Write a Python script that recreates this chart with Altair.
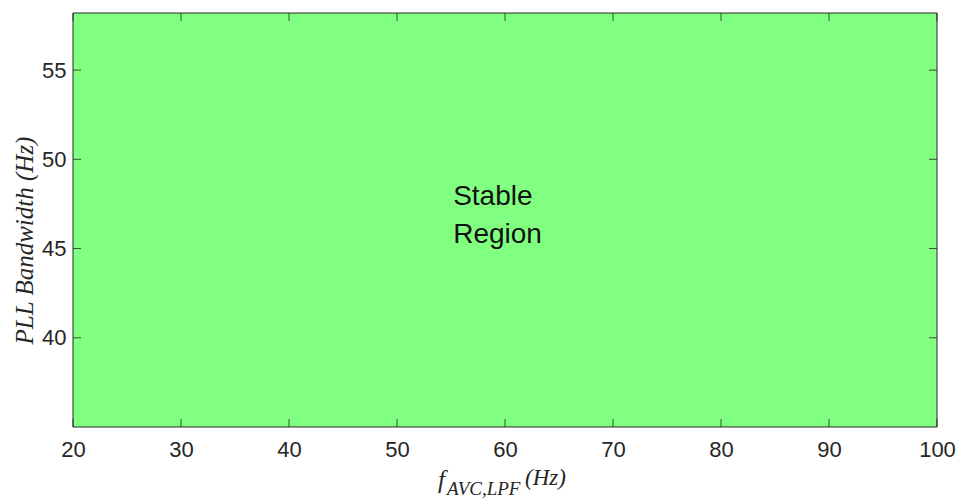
import altair as alt
import pandas as pd

# Data
x_domain = [20, 100]
y_domain = [35, 58.2]
x_ticks = [20, 30, 40, 50, 60, 70, 80, 90, 100]
y_ticks = [40, 45, 50, 55]
region_x = [20, 100]
region_y = [35, 58.2]
label_lines = ["Stable", "Region"]
label_x = [55.2, 55.2]
label_y = [47.45, 45.32]

W, H = 864, 414
AX = "#262626"

xs = alt.Scale(domain=x_domain, nice=False, zero=False)
ys = alt.Scale(domain=y_domain, nice=False, zero=False)

region = pd.DataFrame({"x": [region_x[0]], "x2": [region_x[1]],
                       "y": [region_y[0]], "y2": [region_y[1]]})

xaxis = alt.Axis(values=x_ticks, grid=False, domain=False, ticks=False,
                 labelFont="Liberation Sans", labelFontSize=22, labelColor=AX,
                 labelPadding=12, title=None, labelFlush=False)
yaxis = alt.Axis(values=y_ticks, grid=False, domain=False, ticks=False,
                 labelFont="Liberation Sans", labelFontSize=22, labelColor=AX,
                 labelPadding=7, title="PLL Bandwidth (Hz)",
                 titleFont="Liberation Serif", titleFontStyle="italic",
                 titleFontWeight="normal", titleFontSize=25, titleColor=AX,
                 titleX=-36, titleY=227, titleBaseline="bottom", titleAngle=270,
                 titleAlign="center", labelFlush=False)

rect = alt.Chart(region).mark_rect(fill="#80FF80", stroke=AX, strokeWidth=1).encode(
    x=alt.X("x:Q", scale=xs, axis=xaxis),
    x2="x2:Q",
    y=alt.Y("y:Q", scale=ys, axis=yaxis),
    y2="y2:Q",
)

tx = pd.DataFrame({"t": x_ticks})
ty = pd.DataFrame({"t": y_ticks})
dx = 8 / (W / (x_domain[1] - x_domain[0]))
dy = 8 / (H / (y_domain[1] - y_domain[0]))

tick_style = dict(color=AX, strokeWidth=0.8)
bottom_ticks = alt.Chart(tx).mark_rule(**tick_style).transform_calculate(
    a=f"{y_domain[0]}", b=f"{y_domain[0] + dy}").encode(
    x=alt.X("t:Q", scale=xs), y=alt.Y("a:Q", scale=ys), y2="b:Q")
top_ticks = alt.Chart(tx).mark_rule(**tick_style).transform_calculate(
    a=f"{y_domain[1]}", b=f"{y_domain[1] - dy}").encode(
    x=alt.X("t:Q", scale=xs), y=alt.Y("a:Q", scale=ys), y2="b:Q")
left_ticks = alt.Chart(ty).mark_rule(**tick_style).transform_calculate(
    a=f"{x_domain[0]}", b=f"{x_domain[0] + dx}").encode(
    y=alt.Y("t:Q", scale=ys), x=alt.X("a:Q", scale=xs), x2="b:Q")
right_ticks = alt.Chart(ty).mark_rule(**tick_style).transform_calculate(
    a=f"{x_domain[1]}", b=f"{x_domain[1] - dx}").encode(
    y=alt.Y("t:Q", scale=ys), x=alt.X("a:Q", scale=xs), x2="b:Q")

labels = pd.DataFrame({"text": label_lines, "x": label_x, "y": label_y})
label = alt.Chart(labels).mark_text(
    font="Liberation Sans", fontSize=28, color="#111111",
    align="left", baseline="alphabetic").encode(
    x=alt.X("x:Q", scale=xs), y=alt.Y("y:Q", scale=ys), text="text:N")

# x-axis title: f_{AVC,LPF} (Hz)
t_f = alt.Chart(pd.DataFrame({"text": ["f"]})).mark_text(
    font="Liberation Serif", fontStyle="italic", fontSize=25, color=AX,
    align="left", baseline="alphabetic").encode(
    x=alt.value(365), y=alt.value(475), text="text:N")
t_sub = alt.Chart(pd.DataFrame({"text": ["AVC,LPF"]})).mark_text(
    font="Liberation Serif", fontStyle="italic", fontSize=19, color=AX,
    align="left", baseline="alphabetic").encode(
    x=alt.value(374), y=alt.value(482), text="text:N")
t_hz = alt.Chart(pd.DataFrame({"text": ["(Hz)"]})).mark_text(
    font="Liberation Serif", fontStyle="italic", fontSize=23, color=AX,
    align="left", baseline="alphabetic").encode(
    x=alt.value(452), y=alt.value(472), text="text:N")

chart = alt.layer(rect, bottom_ticks, top_ticks, left_ticks, right_ticks,
                  label, t_f, t_sub, t_hz).properties(
    width=W, height=H,
    autosize=alt.AutoSizeParams(type="none"),
    padding={"left": 73, "top": 13, "right": 26, "bottom": 73},
    background="white",
).configure_view(stroke=None)

chart.save("out.html", embed_options={"renderer": "svg", "actions": False})
